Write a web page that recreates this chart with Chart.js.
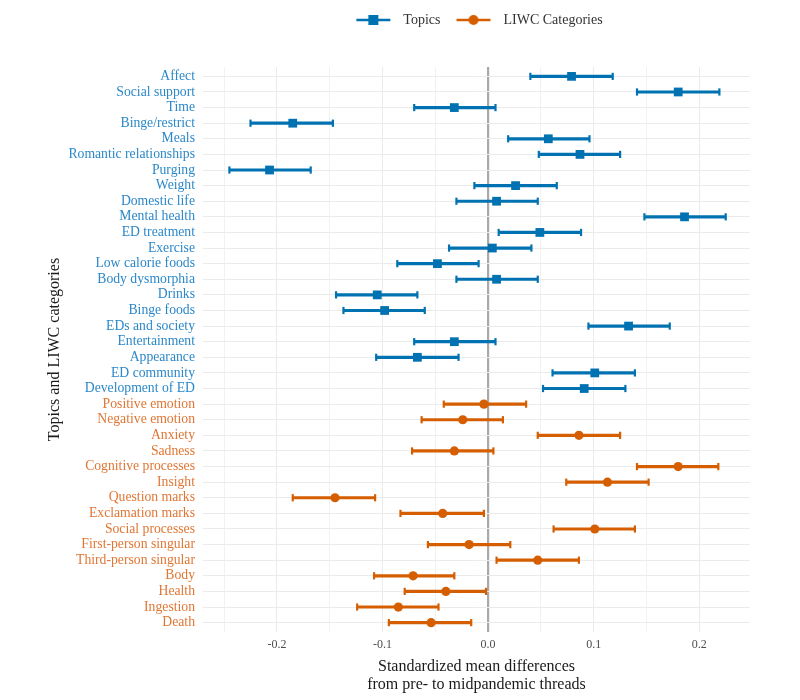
<!DOCTYPE html>
<html>
<head>
<meta charset="utf-8">
<script src="https://cdn.jsdelivr.net/npm/chart.js@4"></script>
<style>
  html, body { margin: 0; padding: 0; background: #fff; }
  #wrap { width: 800px; height: 700px; }
</style>
</head>
<body>
<div id="wrap"><canvas id="smdChart" width="800" height="700"></canvas></div>
<script>
// topics (blue squares)
const topicLabels = ['Affect', 'Social support', 'Time', 'Binge/restrict', 'Meals', 'Romantic relationships',
  'Purging', 'Weight', 'Domestic life', 'Mental health', 'ED treatment', 'Exercise', 'Low calorie foods',
  'Body dysmorphia', 'Drinks', 'Binge foods', 'EDs and society', 'Entertainment', 'Appearance',
  'ED community', 'Development of ED'];
const topicEst  = [0.079, 0.180, -0.032, -0.185, 0.057, 0.087, -0.207, 0.026, 0.008, 0.186, 0.049,
  0.004, -0.048, 0.008, -0.105, -0.098, 0.133, -0.032, -0.067, 0.101, 0.091];
const topicLow  = [0.040, 0.141, -0.070, -0.225, 0.019, 0.048, -0.245, -0.013, -0.030, 0.148, 0.010,
  -0.037, -0.086, -0.030, -0.144, -0.137, 0.095, -0.070, -0.106, 0.061, 0.052];
const topicHigh = [0.118, 0.219, 0.007, -0.147, 0.096, 0.125, -0.168, 0.065, 0.047, 0.225, 0.088,
  0.041, -0.009, 0.047, -0.067, -0.060, 0.172, 0.007, -0.028, 0.139, 0.130];

// LIWC categories (orange circles)
const liwcLabels = ['Positive emotion', 'Negative emotion', 'Anxiety', 'Sadness', 'Cognitive processes',
  'Insight', 'Question marks', 'Exclamation marks', 'Social processes', 'First-person singular',
  'Third-person singular', 'Body', 'Health', 'Ingestion', 'Death'];
const liwcEst  = [-0.004, -0.024, 0.086, -0.032, 0.180, 0.113, -0.145, -0.043, 0.101, -0.018, 0.047,
  -0.071, -0.040, -0.085, -0.054];
const liwcLow  = [-0.042, -0.063, 0.047, -0.072, 0.141, 0.074, -0.185, -0.083, 0.062, -0.057, 0.008,
  -0.108, -0.079, -0.124, -0.094];
const liwcHigh = [0.036, 0.014, 0.125, 0.005, 0.218, 0.152, -0.107, -0.004, 0.139, 0.021, 0.086,
  -0.032, -0.002, -0.047, -0.016];

const xTickValues = [-0.25, -0.2, -0.15, -0.1, -0.05, 0, 0.05, 0.1, 0.15, 0.2];
const xLabelValues = [-0.2, -0.1, 0, 0.1, 0.2];

const categories = topicLabels.concat(liwcLabels);
const nTopics = topicLabels.length;

const BLUE = '#0072B2';
const ORANGE = '#D55E00';
const BLUE_TXT = '#2b88c8';
const ORANGE_TXT = '#e07634';
const SERIF = "'Liberation Serif', 'DejaVu Serif', serif";

// row index for each group
const topicRow = (i) => i;
const liwcRow = (i) => nTopics + i;

function spans(low, high, row) {
  return low.map((v, i) => ({ y: row(i), x: [v, high[i]] }));
}
function caps(low, high, row) {
  return low.map((v, i) => ({ x: v, y: row(i) })).concat(high.map((v, i) => ({ x: v, y: row(i) })));
}
function points(est, row) {
  return est.map((v, i) => ({ x: v, y: row(i) }));
}

// little legend key: line with marker through it
function makeKey(color, shape) {
  const c = document.createElement('canvas');
  c.width = 46; c.height = 14;
  const g = c.getContext('2d');
  g.strokeStyle = color;
  g.lineWidth = 2.5;
  g.beginPath(); g.moveTo(6, 7); g.lineTo(40, 7); g.stroke();
  g.fillStyle = color;
  if (shape === 'rect') {
    g.fillRect(18, 2, 10, 10);
  } else {
    g.beginPath(); g.arc(23, 7, 5, 0, Math.PI * 2); g.fill();
  }
  return c;
}

const bigLegend = {
  id: 'bigLegend',
  beforeInit(chart) {
    const fit = chart.legend.fit;
    chart.legend.fit = function () {
      fit.bind(chart.legend)();
      this.height += 30;
    };
  }
};

const ctx = document.getElementById('smdChart').getContext('2d');
new Chart(ctx, {
  type: 'bar',
  data: {
    datasets: [
      { type: 'bar', label: 'Topics', indexAxis: 'y', grouped: false, barThickness: 2.5,
        backgroundColor: BLUE, borderWidth: 0, data: spans(topicLow, topicHigh, topicRow) },
      { type: 'bar', label: 'LIWC Categories', indexAxis: 'y', grouped: false, barThickness: 2.5,
        backgroundColor: ORANGE, borderWidth: 0, data: spans(liwcLow, liwcHigh, liwcRow) },
      { type: 'scatter', pointStyle: 'line', rotation: 90, radius: 3.6, borderWidth: 2.2,
        borderColor: BLUE, data: caps(topicLow, topicHigh, topicRow) },
      { type: 'scatter', pointStyle: 'line', rotation: 90, radius: 3.6, borderWidth: 2.2,
        borderColor: ORANGE, data: caps(liwcLow, liwcHigh, liwcRow) },
      { type: 'scatter', pointStyle: 'rect', radius: 6.2, borderWidth: 0,
        backgroundColor: BLUE, data: points(topicEst, topicRow) },
      { type: 'scatter', pointStyle: 'circle', radius: 4.6, borderWidth: 0,
        backgroundColor: ORANGE, data: points(liwcEst, liwcRow) }
    ]
  },
  options: {
    responsive: false,
    animation: false,
    layout: { padding: { top: 3, left: 41, right: 50, bottom: 0 } },
    scales: {
      x: {
        type: 'linear',
        offset: false,
        min: -0.27,
        max: 0.248,
        afterBuildTicks: (axis) => { axis.ticks = xTickValues.map(v => ({ value: v })); },
        afterFit: (axis) => { axis.height = 68; },
        border: { display: false },
        grid: {
          offset: false,
          drawTicks: false,
          color: (c) => {
            const v = c.tick ? c.tick.value : null;
            if (v === 0) return '#a9a9a9';
            return xLabelValues.includes(v) ? '#ebebeb' : '#f1f1f1';
          },
          lineWidth: (c) => (c.tick && c.tick.value === 0 ? 2.2 : 1)
        },
        ticks: {
          autoSkip: false,
          maxRotation: 0,
          padding: 6,
          color: '#4d4d4d',
          font: { family: SERIF, size: 12 },
          callback: (v) => (xLabelValues.includes(v) ? v.toFixed(1) : '')
        },
        title: {
          display: true,
          text: ['Standardized mean differences', 'from pre- to midpandemic threads'],
          color: '#1a1a1a',
          font: { family: SERIF, size: 16, lineHeight: 1.15 },
          padding: { top: 4, bottom: 6 }
        }
      },
      y: {
        type: 'linear',
        offset: false,
        reverse: true,
        min: -0.6,
        max: categories.length - 0.4,
        afterBuildTicks: (axis) => { axis.ticks = categories.map((_, i) => ({ value: i })); },
        afterFit: (axis) => { axis.width = 162; },
        border: { display: false },
        grid: { offset: false, drawTicks: false, color: '#ebebeb', lineWidth: 1 },
        ticks: {
          autoSkip: false,
          padding: 8,
          font: { family: SERIF, size: 13.7 },
          color: (c) => (c.tick && c.tick.value < nTopics ? BLUE_TXT : ORANGE_TXT),
          callback: (v) => categories[v]
        },
        title: {
          display: true,
          text: 'Topics and LIWC categories',
          color: '#1a1a1a',
          font: { family: SERIF, size: 16 },
          padding: { top: 4, bottom: 4 }
        }
      }
    },
    plugins: {
      tooltip: { enabled: false },
      legend: {
        position: 'top',
        fullSize: false,
        labels: {
          usePointStyle: true,
          pointStyleWidth: 46,
          padding: 10,
          color: '#333',
          font: { family: SERIF, size: 14 },
          generateLabels: () => [
            { text: 'Topics', pointStyle: makeKey(BLUE, 'rect'), fillStyle: BLUE,
              strokeStyle: BLUE, lineWidth: 0, datasetIndex: 0, hidden: false, fontColor: '#333' },
            { text: 'LIWC Categories', pointStyle: makeKey(ORANGE, 'circle'), fillStyle: ORANGE,
              strokeStyle: ORANGE, lineWidth: 0, datasetIndex: 1, hidden: false, fontColor: '#333' }
          ]
        }
      }
    }
  },
  plugins: [bigLegend]
});
</script>
</body>
</html>
